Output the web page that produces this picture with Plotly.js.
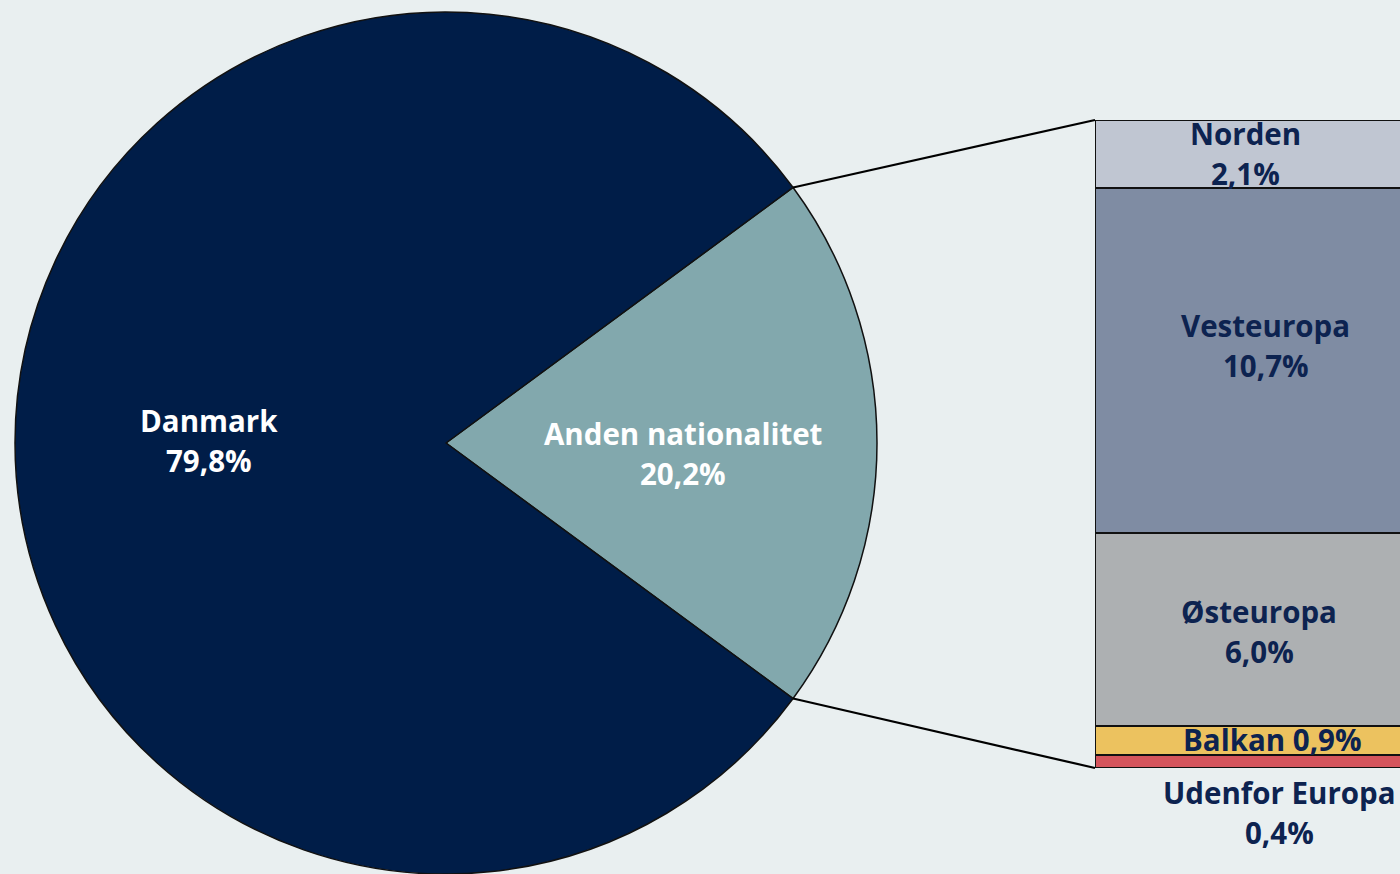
<!DOCTYPE html>
<html>
<head>
<meta charset="utf-8">
<script src="https://cdn.plot.ly/plotly-3.0.1.min.js"></script>
<style>
  html, body { margin: 0; padding: 0; background: #e9eff0; }
  #chart { width: 1400px; height: 874px; }
</style>
</head>
<body>
<div id="chart"></div>
<script>
// ---- Data ----
const pieCategories = ['Anden nationalitet', 'Danmark'];
const pieValues = [20.2, 79.8];
const pieColors = ['#82a8ad', '#001d48'];

const subCategories = ['Udenfor Europa', 'Balkan', 'Østeuropa', 'Vesteuropa', 'Norden'];
const subValues = [0.4, 0.9, 6.0, 10.7, 2.1];
const subColors = ['#d4545c', '#ecc25f', '#adb0b2', '#7f8ca3', '#c0c6d2'];

// ---- Helpers ----
const W = 1400, H = 874;
const fmt = v => v.toFixed(1).replace('.', ',') + '%';
const px2x = px => px / W;
const py2y = py => 1 - py / H;

// Pie geometry (pixels)
const pieCx = 446, pieCy = 443, pieR = 431;
const pieDomX = [px2x(pieCx - pieR), px2x(pieCx + pieR)];
const pieDomY = [py2y(pieCy + pieR), py2y(pieCy - pieR)];

const pieTotal = pieValues.reduce((a, b) => a + b, 0);
const andenFrac = pieValues[0] / pieTotal;
const rotation = 90 - andenFrac * 180; // center the Anden slice at 3 o'clock

// Bar geometry (pixels)
const barLeft = 1095, barTop = 120, barBottom = 768, barWidthPx = 335;
const xDom = [px2x(barLeft), 1];
const visibleFrac = (W - barLeft) / barWidthPx;
const yDom = [py2y(barBottom), py2y(barTop)];
const subTotal = subValues.reduce((a, b) => a + b, 0);

// ---- Traces ----
const traces = [];
traces.push({
  type: 'pie',
  labels: pieCategories,
  values: pieValues,
  sort: false,
  direction: 'clockwise',
  rotation: rotation,
  textinfo: 'none',
  hoverinfo: 'label+percent',
  marker: { colors: pieColors, line: { color: '#111111', width: 1.5 } },
  domain: { x: pieDomX, y: pieDomY },
  showlegend: false
});

subCategories.forEach((name, i) => {
  traces.push({
    type: 'bar',
    x: [0],
    y: [subValues[i]],
    name: name,
    width: 1,
    marker: { color: subColors[i], line: { color: '#111111', width: 2 } },
    hoverinfo: 'name+y',
    showlegend: false,
    xaxis: 'x', yaxis: 'y'
  });
});

// ---- Annotations ----
const annotations = [];
const pieFont = { family: 'Open Sans, Noto Sans, sans-serif', size: 29.5, color: '#ffffff', weight: 700 };
const barFont = { family: 'Open Sans, Noto Sans, sans-serif', size: 29.5, color: '#0d2350', weight: 700 };
const lineGap = 20;

// pie labels at mid-angle of each slice
let acc = 0;
const pieLabelYOffset = [10, -3];
pieValues.forEach((v, i) => {
  const midDeg = rotation + (acc + v / 2) / pieTotal * 360;
  acc += v;
  const a = midDeg * Math.PI / 180;
  const lx = pieCx + 0.55 * pieR * Math.sin(a);
  const ly = pieCy - 0.55 * pieR * Math.cos(a) + pieLabelYOffset[i];
  annotations.push({ xref: 'paper', yref: 'paper', x: px2x(lx), y: py2y(ly), text: pieCategories[i],
    showarrow: false, font: pieFont, xanchor: 'center', yanchor: 'middle', yshift: lineGap });
  annotations.push({ xref: 'paper', yref: 'paper', x: px2x(lx), y: py2y(ly), text: fmt(v),
    showarrow: false, font: pieFont, xanchor: 'center', yanchor: 'middle', yshift: -lineGap });
});

// bar labels
let cum = 0;
const barLabelX = [0.05, 0.03, -0.01, 0.01, -0.05];
subValues.forEach((v, i) => {
  const mid = cum + v / 2;
  cum += v;
  const name = subCategories[i];
  if (name === 'Udenfor Europa') {
    annotations.push({ xref: 'x', yref: 'y', x: barLabelX[i], y: 0, text: name, showarrow: false,
      font: barFont, xanchor: 'center', yanchor: 'middle', yshift: -24 });
    annotations.push({ xref: 'x', yref: 'y', x: barLabelX[i], y: 0, text: fmt(v), showarrow: false,
      font: barFont, xanchor: 'center', yanchor: 'middle', yshift: -64 });
  } else if (name === 'Balkan') {
    annotations.push({ xref: 'x', yref: 'y', x: barLabelX[i], y: mid, text: name + ' ' + fmt(v), showarrow: false,
      font: barFont, xanchor: 'center', yanchor: 'middle', yshift: 1 });
  } else {
    const extra = name === 'Vesteuropa' ? 15 : (name === 'Østeuropa' ? -2 : 0);
    annotations.push({ xref: 'x', yref: 'y', x: barLabelX[i], y: mid, text: name, showarrow: false,
      font: barFont, xanchor: 'center', yanchor: 'middle', yshift: lineGap + extra });
    annotations.push({ xref: 'x', yref: 'y', x: barLabelX[i], y: mid, text: fmt(v), showarrow: false,
      font: barFont, xanchor: 'center', yanchor: 'middle', yshift: -lineGap + extra });
  }
});

// ---- Connector lines ----
const halfAng = andenFrac * Math.PI; // half of slice angle in radians
const pTop = [pieCx + pieR * Math.cos(halfAng), pieCy - pieR * Math.sin(halfAng)];
const pBot = [pieCx + pieR * Math.cos(halfAng), pieCy + pieR * Math.sin(halfAng)];
const shapes = [
  { type: 'line', xref: 'paper', yref: 'paper', x0: px2x(pTop[0]), y0: py2y(pTop[1]), x1: xDom[0], y1: yDom[1],
    line: { color: '#000000', width: 2.2 } },
  { type: 'line', xref: 'paper', yref: 'paper', x0: px2x(pBot[0]), y0: py2y(pBot[1]), x1: xDom[0], y1: yDom[0],
    line: { color: '#000000', width: 2.2 } }
];

const layout = {
  width: W, height: H,
  margin: { l: 0, r: 0, t: 0, b: 0 },
  paper_bgcolor: '#e9eff0',
  plot_bgcolor: 'rgba(0,0,0,0)',
  barmode: 'stack',
  showlegend: false,
  xaxis: { domain: xDom, range: [-0.5, -0.5 + visibleFrac], visible: false, fixedrange: true },
  yaxis: { domain: yDom, range: [0, subTotal], visible: false, fixedrange: true },
  annotations: annotations,
  shapes: shapes
};

Plotly.newPlot('chart', traces, layout, { displayModeBar: false, staticPlot: true });
</script>
</body>
</html>
